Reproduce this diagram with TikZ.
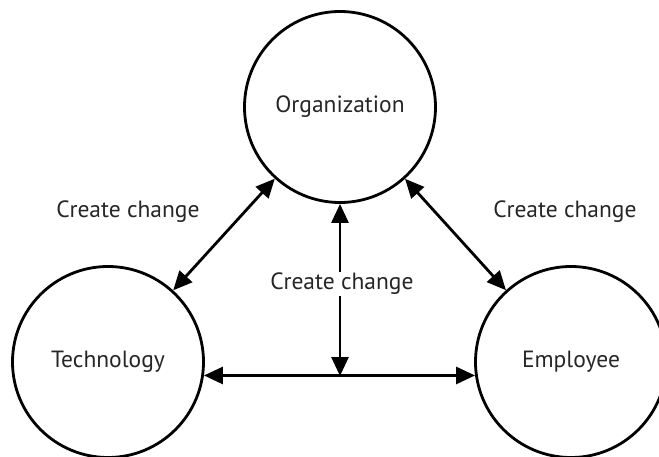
\documentclass[tikz,border=0pt]{standalone}
\usepackage{fontspec}
\setmainfont{PT Sans}
\usetikzlibrary{arrows.meta}
\begin{document}
\begin{tikzpicture}[x=1pt,y=-1pt,
  ent/.style={circle,draw,line width=2.8pt,minimum size=191pt,inner sep=0pt,font=\fontsize{23.5}{28}\selectfont,text=black!85},
  lbl/.style={font=\fontsize{23.5}{28}\selectfont,text=black!85},
  link/.style={line width=2.8pt,{Triangle[length=19pt,width=17pt]}-{Triangle[length=19pt,width=17pt]}}]
\useasboundingbox (0,0) rectangle (659,457);
\clip (0,0) rectangle (659,457);
\node[ent] (org) at (340,107) {Organization};
\node[ent] (tech) at (108,362) {Technology};
\node[ent] (emp) at (571,362) {Employee};
\coordinate (mid) at (340,376);
\draw[link] (tech) -- (org);
\draw[link] (org) -- (emp);
\draw[link] (tech.-8.4) -- (emp.188.4);
\draw[link] (org.south) -- (mid);
\node[lbl] (c1) at (128,212) {Create change};
\node[lbl] (c2) at (565,212) {Create change};
\node[lbl,fill=white,inner sep=1pt] (c3) at (342,284) {Create change};
\end{tikzpicture}
\end{document}
